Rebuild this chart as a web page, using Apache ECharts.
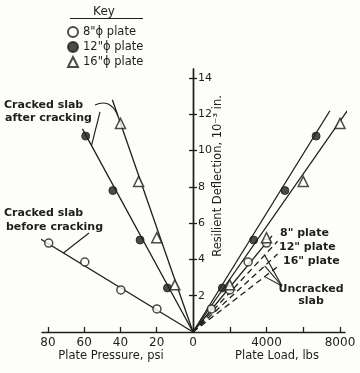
<!DOCTYPE html>
<html><head><meta charset="utf-8">
<script src="https://cdn.jsdelivr.net/npm/echarts@6/dist/echarts.min.js"></script>
<style>html,body{margin:0;padding:0;background:#fdfdfa}#c{width:360px;height:373px}</style>
</head><body><div id="c"></div>
<script>
// ---- axis ticks / labels ----
const pressureTicks = [80, 60, 40, 20, 0];
const loadTicks = [2000, 4000, 6000, 8000];
const loadLabels = [4000, 8000];
const deflTicks = [2, 4, 6, 8, 10, 12, 14];

// ---- series names ----
const plateNames = ['8"\u03d5 plate', '12"\u03d5 plate', '16"\u03d5 plate'];

// ---- 8" plate, cracked slab before cracking ----
const psi8 = [19.9, 39.8, 59.7, 79.6];
const load8 = [1000, 2000, 3000, 4000];
const defl8 = [1.27, 2.32, 3.86, 4.9];
// ---- 12" plate, after cracking ----
const psi12 = [14.1, 29.2, 44.2, 59.2];
const load12 = [1600, 3300, 5000, 6700];
const defl12 = [2.43, 5.07, 7.8, 10.8];
// ---- 16" plate, after cracking ----
const psi16 = [10, 20, 30, 40];
const load16 = [2000, 4000, 6000, 8000];
const defl16 = [2.6, 5.2, 8.3, 11.5];

// ---- fitted lines (from origin to end point) ----
const lineL8 = [[0, 0], [87, 5.3]];
const lineL12 = [[0, 0], [61, 11.2]];
const lineL16 = [[0, 0], [44.5, 12.8]];
const lineR8 = [[0, 0], [4300, 5.3]];
const lineR12 = [[0, 0], [7450, 12.2]];
const lineR16 = [[0, 0], [8400, 12.2]];
// ---- uncracked slab (dashed) ----
const uncr8 = [[0, 0], [4600, 5.0]];
const uncr12 = [[0, 0], [4600, 4.3]];
const uncr16 = [[0, 0], [4600, 3.6]];

const INK = '#1e1e1e';
const FONT = 'DejaVu Sans';
const zip = (a, b) => a.map((v, i) => [v, b[i]]);

const chart = echarts.init(document.getElementById('c'), null, {renderer: 'canvas'});

function lineSeries(name, data, grid, dashed) {
  return {
    type: 'line', name: name, data: data, xAxisIndex: grid, yAxisIndex: grid,
    showSymbol: false, symbol: 'none', clip: false, silent: true, z: 2,
    lineStyle: {color: INK, width: 1.3, type: dashed ? [6, 4] : 'solid'}
  };
}
function markerSeries(idx, data, grid) {
  const styles = [
    {symbol: 'circle', symbolSize: 8, itemStyle: {color: '#fff', borderColor: INK, borderWidth: 1.5}},
    {symbol: 'circle', symbolSize: 8, itemStyle: {color: INK, borderColor: INK, borderWidth: 1}},
    {symbol: 'triangle', symbolSize: 10, itemStyle: {color: '#fff', borderColor: INK, borderWidth: 1.5}}
  ];
  return Object.assign({
    type: 'scatter', name: plateNames[idx], data: data, xAxisIndex: grid, yAxisIndex: grid,
    clip: false, z: 5
  }, styles[idx]);
}

const axisLineStyle = {show: true, lineStyle: {color: INK, width: 1.4}};

chart.setOption({
  backgroundColor: '#fdfdfa',
  animation: false,
  textStyle: {fontFamily: FONT},
  legend: {
    data: plateNames,
    orient: 'vertical', left: 62, top: 21, itemGap: 3,
    itemWidth: 10, itemHeight: 10, selectedMode: false,
    textStyle: {fontSize: 11.5, color: INK, fontFamily: FONT}
  },
  grid: [
    {left: 42, top: 69, width: 151, height: 263},
    {left: 193, top: 69, width: 152, height: 263}
  ],
  xAxis: [
    {gridIndex: 0, type: 'value', inverse: true, min: 0, max: 83.3,
     axisLine: axisLineStyle, splitLine: {show: false},
     axisTick: {inside: true, length: 5, customValues: pressureTicks, lineStyle: {color: INK, width: 1.3}},
     axisLabel: {customValues: pressureTicks, fontSize: 12, color: INK, margin: 5, fontFamily: FONT,
       formatter: v => String(v)}},
    {gridIndex: 1, type: 'value', min: 0, max: 8272,
     axisLine: axisLineStyle, splitLine: {show: false},
     axisTick: {inside: true, length: 5, customValues: loadTicks, lineStyle: {color: INK, width: 1.3}},
     axisLabel: {customValues: loadLabels, fontSize: 12, color: INK, margin: 5, fontFamily: FONT,
       formatter: v => String(v)}}
  ],
  yAxis: [
    {gridIndex: 0, type: 'value', min: 0, max: 14.5, position: 'right',
     axisLine: axisLineStyle, splitLine: {show: false},
     axisTick: {inside: true, length: 4, customValues: deflTicks, lineStyle: {color: INK, width: 1.3}},
     axisLabel: {show: false}},
    {gridIndex: 1, type: 'value', min: 0, max: 14.5, position: 'left',
     axisLine: axisLineStyle, splitLine: {show: false},
     axisTick: {inside: true, length: 4, customValues: deflTicks, lineStyle: {color: INK, width: 1.3}},
     axisLabel: {inside: true, customValues: deflTicks, fontSize: 11, color: INK, margin: 5, fontFamily: FONT}}
  ],
  series: [
    lineSeries('l8', lineL8, 0), lineSeries('l12', lineL12, 0), lineSeries('l16', lineL16, 0),
    lineSeries('r8', lineR8, 1), lineSeries('r12', lineR12, 1), lineSeries('r16', lineR16, 1),
    lineSeries('u8', uncr8, 1, true), lineSeries('u12', uncr12, 1, true), lineSeries('u16', uncr16, 1, true),
    markerSeries(0, zip(psi8, defl8), 0), markerSeries(1, zip(psi12, defl12), 0), markerSeries(2, zip(psi16, defl16), 0),
    markerSeries(0, zip(load8, defl8), 1), markerSeries(1, zip(load12, defl12), 1), markerSeries(2, zip(load16, defl16), 1)
  ]
});

// ---- annotations ----
const P0 = (x, y) => chart.convertToPixel({gridIndex: 0}, [x, y]);
const P1 = (x, y) => chart.convertToPixel({gridIndex: 1}, [x, y]);
const onLine = (line, x) => [x, line[1][1] * x / line[1][0]];

function txt(text, x, y, opts) {
  return Object.assign({type: 'text', x: x, y: y, silent: true,
    style: Object.assign({text: text, fill: INK, fontFamily: FONT, fontSize: 11.5,
      align: 'left', verticalAlign: 'middle'}, (opts && opts.style) || {})},
    opts && opts.rotation ? {rotation: opts.rotation} : {});
}
function seg(a, b) {
  return {type: 'line', silent: true, shape: {x1: a[0], y1: a[1], x2: b[0], y2: b[1]},
    style: {stroke: INK, lineWidth: 1.1}};
}

const a16 = P0(...onLine(lineL16, 41.5));
const a12 = P0(...onLine(lineL12, 56));
const b8 = P0(...onLine(lineL8, 71.5));
const u8 = P1(...onLine(uncr8, 3900));
const u12 = P1(...onLine(uncr12, 3900));
const u16 = P1(...onLine(uncr16, 3900));

const g = [
  txt('Key', 104, 12, {style: {align: 'center', fontSize: 12}}),
  seg([70, 18.5], [143, 18.5]),
  txt('Cracked slab', 4, 105, {style: {fontWeight: 'bold', fontSize: 11}}),
  txt('after cracking', 5, 118, {style: {fontWeight: 'bold', fontSize: 11}}),
  {type: 'bezierCurve', silent: true,
   shape: {x1: 95, y1: 105, cpx1: 110, cpy1: 98, x2: a16[0], y2: a16[1]},
   style: {stroke: INK, lineWidth: 1.1, fill: null}},
  seg([100, 112], a12),
  txt('Cracked slab', 4, 213, {style: {fontWeight: 'bold', fontSize: 11}}),
  txt('before cracking', 6, 227, {style: {fontWeight: 'bold', fontSize: 11}}),
  seg([89, 233], b8),
  txt('8" plate', 280, 233, {style: {fontWeight: 'bold', fontSize: 11}}),
  txt('12" plate', 279, 247, {style: {fontWeight: 'bold', fontSize: 11}}),
  txt('16" plate', 283, 261, {style: {fontWeight: 'bold', fontSize: 11}}),
  txt('Uncracked', 311, 289, {style: {fontWeight: 'bold', fontSize: 11, align: 'center'}}),
  txt('slab', 311, 301, {style: {fontWeight: 'bold', fontSize: 11, align: 'center'}}),
  seg([282, 286], u8), seg([282, 286], u12), seg([282, 286], u16),
  txt('Plate Pressure, psi', 111, 356, {style: {align: 'center', fontSize: 11.5}}),
  txt('Plate Load, lbs', 277, 356, {style: {align: 'center', fontSize: 11.5}}),
  txt('Resilient Deflection, 10\u207b\u00b3 in.', 218, 176, {rotation: Math.PI / 2, style: {align: 'center', fontSize: 11.5}})
];
chart.setOption({graphic: g});
</script>
</body></html>
